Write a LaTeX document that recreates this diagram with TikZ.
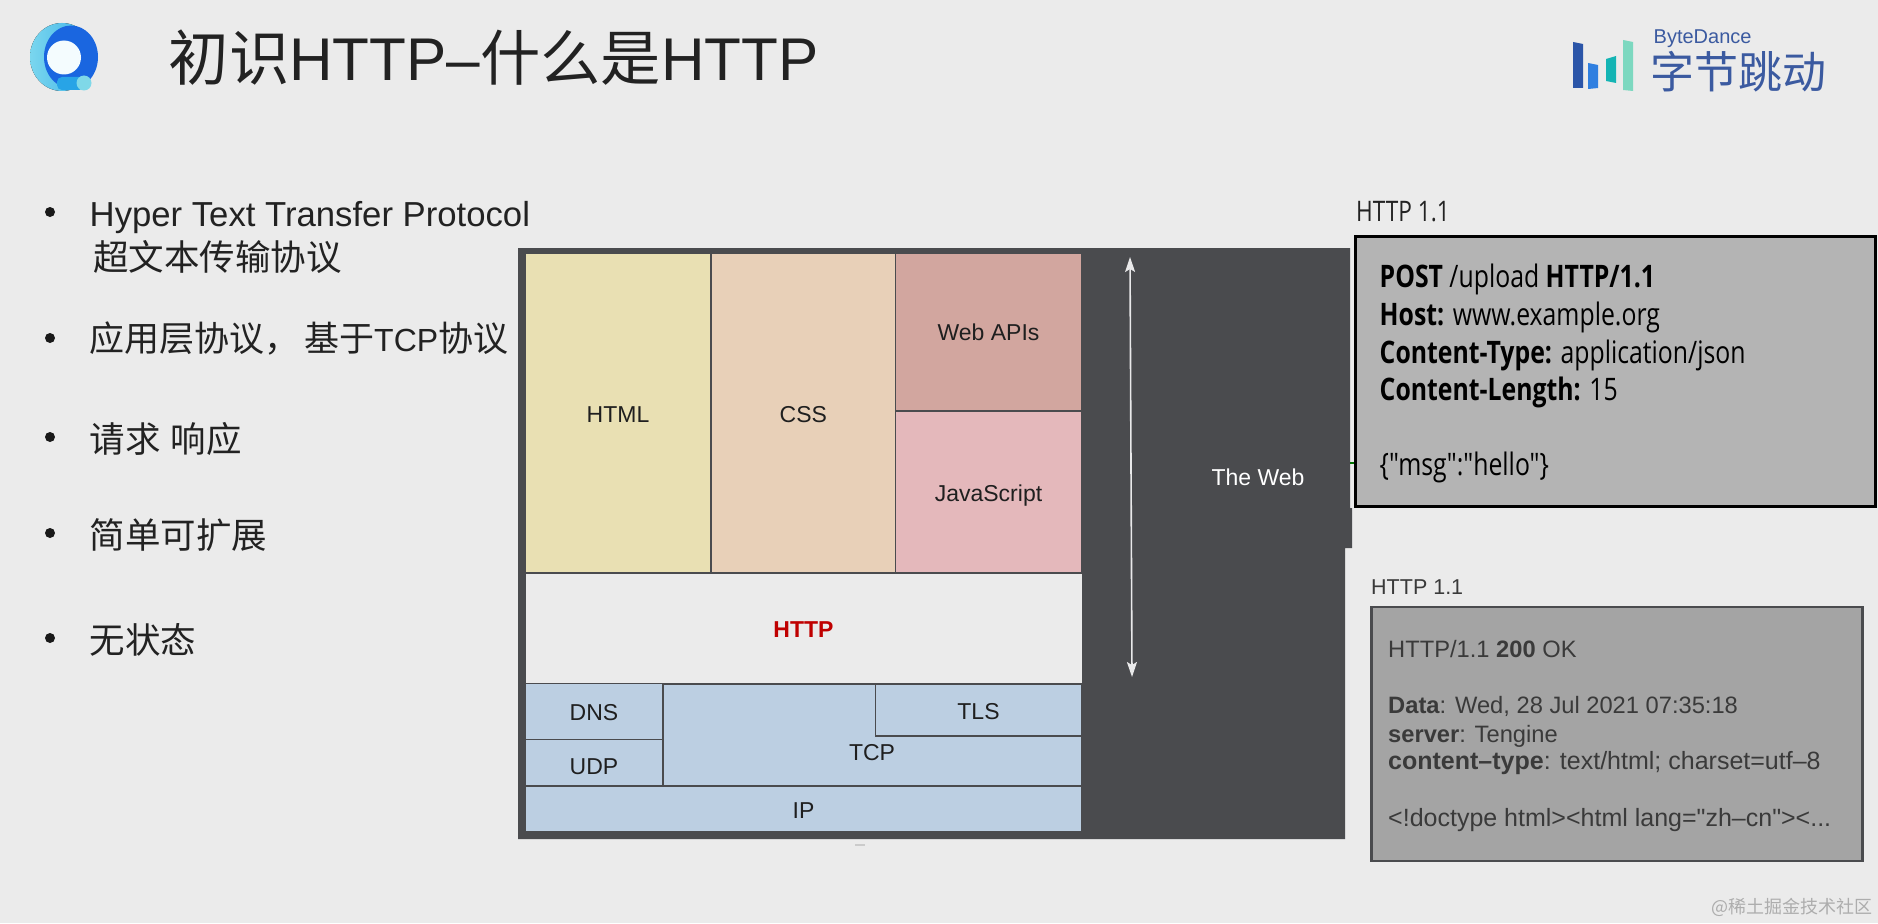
\documentclass[tikz,border=0pt]{standalone}
\usepackage{fontspec}
\usetikzlibrary{arrows.meta}
\setmainfont{Liberation Sans}
\newfontfamily\cjk{Noto Sans CJK SC}
\newfontfamily\plainsans{Liberation Sans}
\newfontfamily\myr[FakeStretch=0.8]{Open Sans}
\newcommand{\fs}[1]{\fontsize{#1}{#1}\selectfont}
\definecolor{bgc}{HTML}{EBEBEB}
\definecolor{darkp}{HTML}{4A4B4E}
\definecolor{ink}{HTML}{222222}
\definecolor{htmlc}{HTML}{E9E0B3}
\definecolor{cssc}{HTML}{E8D0B8}
\definecolor{apic}{HTML}{D2A69F}
\definecolor{jsc}{HTML}{E4B8BB}
\definecolor{netc}{HTML}{BCCFE2}
\definecolor{reqc}{HTML}{B4B4B4}
\definecolor{resc}{HTML}{A4A4A4}
\definecolor{resink}{HTML}{3A3A3A}
\definecolor{bdblue}{HTML}{3B5AA0}
\definecolor{ringa}{HTML}{7AD6EE}
\definecolor{ringb}{HTML}{3AB0E8}
\definecolor{ringc}{HTML}{1A66E0}
\definecolor{ringd}{HTML}{28A4E6}
\definecolor{ringe}{HTML}{7FD8E8}
\tikzset{
  cell/.style={draw=darkp,line width=1.4pt,inner sep=0pt,text height=18.5pt,text depth=0pt,font=\fs{23}\color{black!88}},
  lab/.style={inner sep=0pt,font=\fs{23}\color{ink}},
  bullettext/.style={anchor=base west,inner sep=0pt,font=\fs{34.7}\color{ink}},
  cjktext/.style={anchor=base west,inner sep=0pt,font=\cjk\fs{35.5}\color{ink}},
  dotb/.style={circle,fill=black!90,inner sep=0pt,minimum size=10pt},
  reql/.style={anchor=base west,inner sep=0pt,font=\myr\fs{31}\color{black}},
  resl/.style={anchor=base west,inner sep=0pt,font=\plainsans\fs{23.7}\color{resink}},
  resw/.style={resl,font=\plainsans\fs{25}\color{resink}},
}
\begin{document}
\begin{tikzpicture}[x=1pt,y=-1pt]
\useasboundingbox (0,0) rectangle (1878,923);
\fill[bgc] (0,0) rectangle (1878,923);

% left logo
\fill[left color=ringa,right color=ringb] (62,57) ellipse [x radius=32,y radius=34];
\fill[ringc] (71,57) ellipse [x radius=27,y radius=31.5];
\fill[ringd,rounded corners=5pt] (57,77) rectangle (84,90);
\fill[white!92!ringa] (64,57.5) circle (17);
\fill[ringe] (84,83) circle (7.5);

% ByteDance logo
\fill[color={rgb,255:red,43;green,85;blue,168}] (1573,42) -- (1583,44) -- (1583,88) -- (1573,88) -- cycle;
\fill[color={rgb,255:red,47;green,127;blue,224}] (1588,63) -- (1598,65) -- (1598,88) -- (1588,89) -- cycle;
\fill[color={rgb,255:red,20;green,180;blue,180}] (1606,59) -- (1616,56) -- (1616,83) -- (1606,81) -- cycle;
\fill[color={rgb,255:red,125;green,216;blue,192}] (1623,40) -- (1633,42) -- (1633,91) -- (1623,90) -- cycle;
\node[anchor=base west,inner sep=0pt,font=\fs{20}\color{bdblue}] (bytedance) at (1653.5,44) {ByteDance};
\node[anchor=center,inner sep=0pt,font=\cjk\fs{44}\color{bdblue}] (zijie) at (1738.5,72) {字节跳动};

% title
\node[anchor=base west,inner sep=0pt,font=\fs{60.3}\color{ink}] (title) at (168.5,81) {{\cjk 初识}HTTP–{\cjk 什么是}HTTP};

% bullets
\node[dotb] (b1) at (50,212) {};
\node[bullettext] (t1) at (89.5,226) {Hyper Text Transfer Protocol};
\node[cjktext] (t1b) at (93,270) {超文本传输协议};
\node[dotb] (b2) at (50,338) {};
\node[cjktext,font=\cjk\fs{35}\color{ink}] (t2) at (89,351) {应用层协议，\hspace{5pt}基于{\plainsans\fs{32}TCP}协议};
\node[dotb] (b3) at (50,437) {};
\node[cjktext,font=\cjk\fs{35.5}\color{ink}] (t3) at (89.5,452) {请求\hspace{2pt} 响应};
\node[dotb] (b4) at (50,533) {};
\node[cjktext] (t4) at (89.5,548) {简单可扩展};
\node[dotb] (b5) at (50,638) {};
\node[cjktext] (t5) at (89.5,653) {无状态};

% dark panel
\fill[darkp] (518,248) -- (1350,248) -- (1350,508) -- (1352,508) -- (1352,548) -- (1345,548) -- (1345,839) -- (518,839) -- cycle;
\fill[bgc!80!darkp] (855,844) rectangle (865,846);

% stack
\node[cell,fill=htmlc,minimum width=185.5pt,minimum height=320pt] (html) at (618,413) {HTML};
\node[cell,fill=cssc,minimum width=185pt,minimum height=320pt] (css) at (803.3,413) {CSS};
\node[cell,fill=apic,minimum width=186pt,minimum height=158pt,text height=17pt] (api) at (988.5,332) {Web APIs};
\node[cell,fill=jsc,minimum width=186pt,minimum height=162pt] (js) at (988.5,492) {JavaScript};
\node[cell,draw=none,fill=bgc,minimum width=556pt,minimum height=110pt,font=\bfseries\fs{23}\color{red!75!black}] (http) at (803.5,628.5) {HTTP};
\node[cell,fill=netc,minimum width=418pt,minimum height=102pt,text height=0pt] (tcpbox) at (872.5,735) {};
\node[cell,fill=netc,minimum width=206pt,minimum height=52pt] (tls) at (978.5,710) {TLS};
\node[cell,draw=none] (tcp) at (872,751) {TCP};
\node[cell,fill=netc,minimum width=138pt,minimum height=56pt] (dns) at (594,711.5) {DNS};
\node[cell,fill=netc,minimum width=138pt,minimum height=46pt,text height=23pt] (udp) at (594,762.5) {UDP};
\node[cell,fill=netc,minimum width=556pt,minimum height=46pt] (ip) at (803.5,809) {IP};

% arrow and web label
\coordinate (atop) at (1130,257);
\coordinate (abot) at (1132,677);
\draw[white!88!darkp,line width=1.6pt,{Stealth[length=15pt,width=10pt,inset=3pt]}-{Stealth[length=15pt,width=10pt,inset=3pt]}] (atop) -- (abot);
\node[lab,text=white] (web) at (1258,477) {The Web};

% request
\node[anchor=base west,inner sep=0pt,font=\myr\fs{28.3}\color{ink}] (reqlab) at (1356,221) {HTTP 1.1};
\node[draw=black,line width=3pt,fill=reqc,inner sep=0pt,minimum width=520pt,minimum height=270pt] (req) at (1615,371) {};
\coordinate (tick) at (1350,463);
\draw[green!45!black,line width=1.5pt] (tick) -- (req.west |- tick);
\node[reql] (r1) at (1379.5,287) {\bfseries POST \mdseries/upload \bfseries HTTP/1.1};
\node[reql] (r2) at (1379.5,325) {\bfseries Host: \mdseries www.example.org};
\node[reql] (r3) at (1379.5,363) {\bfseries Content-Type: \mdseries application/json};
\node[reql] (r4) at (1379.5,400) {\bfseries Content-Length: \mdseries 15};
\node[reql] (r5) at (1379.5,475) {\{"msg":"hello"\}};

% response
\node[anchor=base west,inner sep=0pt,font=\fs{21.5}\color{resink}] (reslab) at (1371,594) {HTTP 1.1};
\node[draw=darkp,line width=2.6pt,fill=resc,inner sep=0pt,minimum width=491pt,minimum height=254pt] (res) at (1617,734) {};
\node[resl] (s1) at (1388,657) {HTTP/1.1 \textbf{200} OK};
\node[resl] (s2) at (1388,713) {\textbf{Data}: Wed, 28 Jul 2021 07:35:18};
\node[resl] (s3) at (1388,742) {\textbf{server}: Tengine};
\node[resw] (s4) at (1388,769) {\textbf{content–type}: text/html; charset=utf–8};
\node[resw] (s5) at (1388,826) {<!doctype html><html lang="zh–cn"><...};

% watermark
\node[anchor=center,inner sep=0pt,font=\cjk\fs{18}\color{black!32}] (wm) at (1792,907) {@稀土掘金技术社区};
\end{tikzpicture}
\end{document}
